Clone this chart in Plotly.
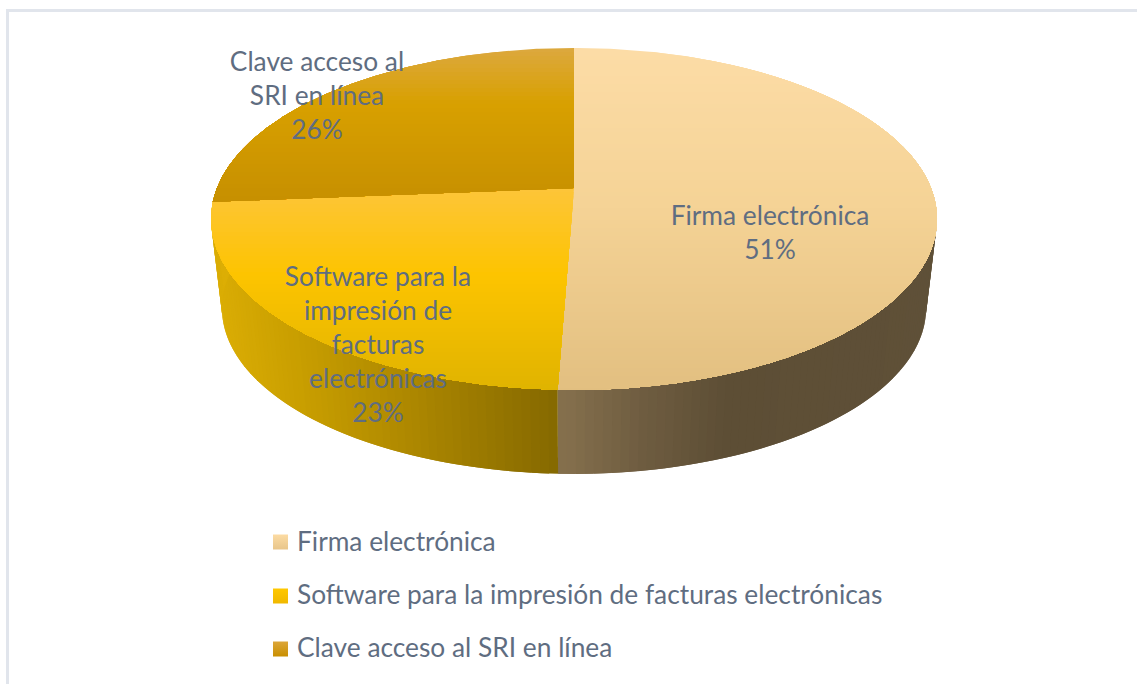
import math
import plotly.graph_objects as go

categories = ["Firma electrónica", "Software para la impresión de facturas electrónicas", "Clave acceso al SRI en línea"]
values = [50.6, 23.1, 26.3]
label_lines = [["Firma electrónica"], ["Software para la", "impresión de", "facturas", "electrónicas"], ["Clave acceso al", "SRI en línea"]]

# style / layout constants (pixel space of the 1137x684 canvas)
W, H = 1137, 684
CX, APEX_Y = 574, 188
A, B, K = 357, 165.4, 0.181
BASE_SCALE, BASE_APEX_Y = 0.97, 278
FONT = "Lato"
FONT_SIZE = 26.3
TEXT = "#5f6d81"
TOP_STOPS = [
    [(0, "#fcdca6"), (0.45, "#f5d396"), (1, "#e2bf80")],
    [(0, "#fdc538"), (0.42, "#fdc400"), (1, "#dfb300")],
    [(0, "#dca83c"), (0.35, "#d8a000"), (1, "#c68f00")],
]
SIDE_STOPS = [
    [(558, "#85704d"), (640, "#6e5c40"), (720, "#5d4e35"), (940, "#5f5038")],
    [(210, "#dcae05"), (300, "#c89e00"), (400, "#af8900"), (557, "#846800")],
    [(210, "#dcae05"), (940, "#dcae05")],
]
LEGEND_STOPS = [("#fcdba3", "#e8c58a"), ("#ffc800", "#f0b800"), ("#dca63a", "#c98f00")]
LABEL_POS = [(770, 218), (378, 279), (317, 64)]
LINE_H = 34.2
LEGEND_Y = [544, 597, 650]
MARK_Y = [542, 596, 649]


def hex2rgb(h):
    return tuple(int(h[i:i + 2], 16) for i in (1, 3, 5))


def ramp(stops, t):
    if t <= stops[0][0]:
        return stops[0][1]
    for (a, ca), (b, cb) in zip(stops, stops[1:]):
        if t <= b:
            f = (t - a) / (b - a)
            r = [round(x + (y - x) * f) for x, y in zip(hex2rgb(ca), hex2rgb(cb))]
            return "rgb(%d,%d,%d)" % tuple(r)
    return stops[-1][1]


def top_pt(theta, r=1.0):
    u, v = r * math.sin(theta), r * math.cos(theta)
    d = 1 + K * v
    return CX + A * u / d, APEX_Y - B * v / d


def base_pt(theta):
    u, v = math.sin(theta), math.cos(theta)
    d = 1 + K * v
    return CX + BASE_SCALE * A * u / d, BASE_APEX_Y - BASE_SCALE * B * v / d


def clip_below(poly, y0):
    out = []
    for i, p in enumerate(poly):
        q = poly[(i + 1) % len(poly)]
        pin, qin = p[1] >= y0, q[1] >= y0
        if pin:
            out.append(p)
        if pin != qin:
            f = (y0 - p[1]) / (q[1] - p[1])
            out.append((p[0] + (q[0] - p[0]) * f, y0))
    return out


def poly_trace(poly, color):
    xs = [p[0] for p in poly] + [poly[0][0]]
    ys = [p[1] for p in poly] + [poly[0][1]]
    return go.Scatter(x=xs, y=ys, mode="lines", fill="toself", fillcolor=color,
                      line=dict(width=0, color=color), hoverinfo="skip", showlegend=False)


fig = go.Figure()
total = sum(values)
bounds = [0.0]
for val in values:
    bounds.append(bounds[-1] + val / total * 2 * math.pi)

# side walls
for i in range(3):
    t0, t1 = bounds[i], bounds[i + 1]
    n = max(2, int((t1 - t0) / math.radians(1.2)))
    for j in range(n):
        a = t0 + (t1 - t0) * j / n
        b = t0 + (t1 - t0) * min(j + 2, n) / n
        if math.cos((a + b) / 2) > 0.25:
            continue
        pts = [top_pt(a), top_pt(b), base_pt(b), base_pt(a)]
        mid = sum(p[0] for p in pts) / 4
        fig.add_trace(poly_trace(pts, ramp(SIDE_STOPS[i], mid)))

# top face, painted in overlapping bands so that the vertical shading has no seams
for i in range(3):
    t0, t1 = bounds[i], bounds[i + 1]
    n = 240
    wedge = [(CX, APEX_Y)] + [top_pt(t0 + (t1 - t0) * j / n) for j in range(n + 1)]
    ymin, ymax = min(p[1] for p in wedge), max(p[1] for p in wedge)
    y = ymin
    while y < ymax:
        band = clip_below(wedge, y)
        if len(band) >= 3:
            fig.add_trace(poly_trace(band, ramp(TOP_STOPS[i], (y - ymin) / (ymax - ymin))))
        y += 4

# data labels
for lines, val, (lx, ly) in zip(label_lines, values, LABEL_POS):
    rows = lines + ["%d%%" % round(val / total * 100)]
    fig.add_trace(go.Scatter(x=[lx] * len(rows), y=[ly + LINE_H * k for k in range(len(rows))],
                             mode="text", text=rows, textposition="middle center",
                             textfont=dict(family=FONT, size=FONT_SIZE, color=TEXT),
                             hoverinfo="skip", showlegend=False))

# legend
for cat, ly, my, (c0, c1) in zip(categories, LEGEND_Y, MARK_Y, LEGEND_STOPS):
    fig.add_trace(go.Scatter(x=[280.5], y=[my], mode="markers", showlegend=False, hoverinfo="skip",
                             marker=dict(symbol="square", size=15, color=c0,
                                         gradient=dict(type="vertical", color=c1),
                                         line=dict(width=0))))
    fig.add_trace(go.Scatter(x=[297], y=[ly], mode="text", text=[cat], textposition="middle right",
                             textfont=dict(family=FONT, size=FONT_SIZE, color=TEXT),
                             hoverinfo="skip", showlegend=False))

fig.update_layout(
    width=W, height=H, autosize=False, margin=dict(l=0, r=0, t=0, b=0),
    paper_bgcolor="white", plot_bgcolor="white", showlegend=False,
    xaxis=dict(range=[0, W], visible=False, fixedrange=True),
    yaxis=dict(range=[H, 0], visible=False, fixedrange=True),
    shapes=[
        dict(type="line", x0=7, x1=W, y0=10.5, y1=10.5, line=dict(color="#e1e5ec", width=3), layer="below"),
        dict(type="line", x0=7.5, x1=7.5, y0=9, y1=H, line=dict(color="#e1e5ec", width=3), layer="below"),
    ],
)
fig.write_html("out.html", config=dict(displayModeBar=False),
               post_script="document.body.style.margin='0';document.documentElement.style.overflow='hidden';")
